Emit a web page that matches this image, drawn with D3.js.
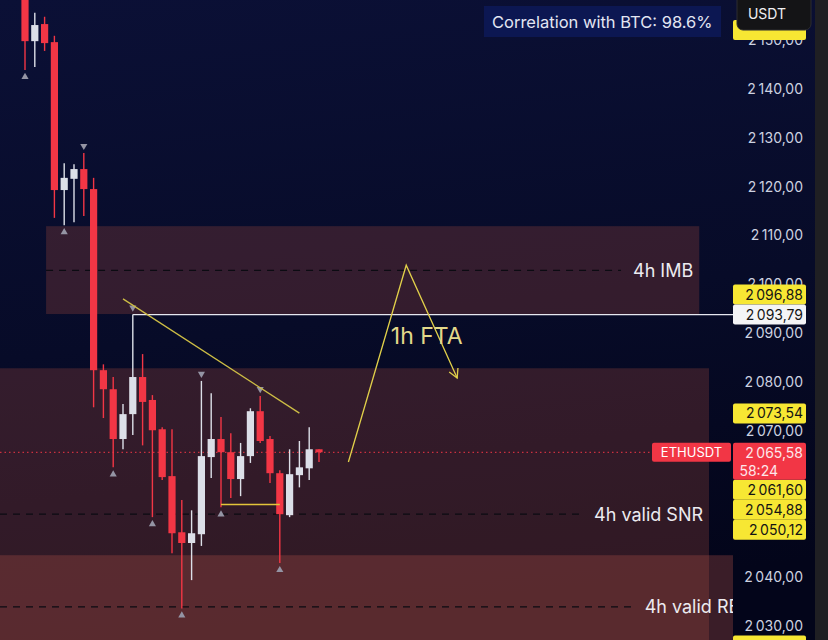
<!DOCTYPE html>
<html><head><meta charset="utf-8">
<script src="https://cdn.jsdelivr.net/npm/d3@7"></script>
<style>
html,body{margin:0;padding:0;background:#050818;}
svg{display:block;font-family:Inter,"Noto Sans",sans-serif;}
</style></head>
<body>
<svg id="c" width="828" height="640"></svg>
<script>
// ---- data ----
const opens  = [2162, 2149.8, 2153.3, 2149.6, 2119.3, 2121.6, 2123.6, 2119.5, 2082.4, 2078.5, 2068.3, 2073.4, 2081.0, 2076.3, 2070.3, 2060.7, 2049.2, 2047.0, 2048.8, 2064.6, 2068.3, 2065.6, 2060.1, 2064.8, 2074.0, 2068.3, 2061.3, 2052.7, 2060.9, 2062.3, 2066.2];
const highs  = [2166, 2155.6, 2154.8, 2150.9, 2124.8, 2124.6, 2126.9, 2121.8, 2083.6, 2081.0, 2075.5, 2093.79, 2085.7, 2077.3, 2070.7, 2070.3, 2055.8, 2053.7, 2080.2, 2077.7, 2072.8, 2069.5, 2067.5, 2074.6, 2077.1, 2068.9, 2061.9, 2066.2, 2067.9, 2070.7, 2066.2];
const lows   = [2143.9, 2144.5, 2147.8, 2113.6, 2112.1, 2112.7, 2114.0, 2074.8, 2072.6, 2062.5, 2066.2, 2069.1, 2067.0, 2052.3, 2059.9, 2044.9, 2033.6, 2039.4, 2046.4, 2060.3, 2054.3, 2056.2, 2056.6, 2063.4, 2067.5, 2059.3, 2042.9, 2052.3, 2058.4, 2059.9, 2063.6];
const closes = [2149.8, 2153.1, 2149.4, 2119.3, 2121.8, 2123.6, 2119.5, 2082.4, 2078.5, 2068.3, 2073.4, 2081.0, 2075.9, 2070.1, 2060.5, 2049.0, 2047.0, 2049.0, 2064.8, 2068.3, 2065.6, 2060.1, 2064.8, 2074.0, 2067.9, 2061.3, 2052.9, 2061.1, 2062.5, 2066.2, 2065.58];
const fractalBelow = [0, 4, 9, 13, 16, 20, 26];
const fractalAbove = [6, 11, 18, 24];
const tickValues = [2030, 2040, 2050, 2060, 2070, 2080, 2090, 2100, 2110, 2120, 2130, 2140, 2150];
const zoneNames   = ["4h IMB", "4h valid SNR", "4h valid RB"];
const zoneTops    = [2111.9, 2082.8, 2044.5];
const zoneBottoms = [2093.9, 2010, 2010];
const zoneStarts  = [2.15, -3, -3];
const zoneEnds    = [68.8, 69.8, 73.6];
const zoneMids    = [2102.85, 2052.9, 2033.9];
const trendIdx = [10, 28];
const trendPx  = [2097.0, 2073.6];
const ftaIdx = [33.0, 38.9, 44.1];
const ftaPx  = [2063.6, 2103.9, 2080.8];
const boxLineIdx = [20, 26];
const boxLinePx = 2054.88;
const highLinePx = 2093.79;
const currentPx = 2065.58;
const countdown = "58:24";
const yellowLevels = [2096.88, 2073.54, 2061.60, 2054.88, 2050.12];
const whiteLevels = [2093.79];
const offscreenMarkers = [2152.1, 2026.0];

// ---- scales ----
const W = 828, H = 640, plotRight = 733;
const y = d3.scaleLinear().domain([2030, 2140]).range([626, 89]);
const x = d3.scaleLinear().domain([0, 30]).range([25, 319]);
const loc = d3.formatLocale({decimal: ",", thousands: "\u2009", grouping: [3], currency: ["", ""]});
const fmt = loc.format(",.2f");

const svg = d3.select("#c");
const defs = svg.append("defs");
const g1 = defs.append("linearGradient").attr("id","bg").attr("x1",0).attr("y1",0).attr("x2",0.15).attr("y2",1);
g1.append("stop").attr("offset","0%").attr("stop-color","#0b1036");
g1.append("stop").attr("offset","55%").attr("stop-color","#070b28");
g1.append("stop").attr("offset","100%").attr("stop-color","#03051a");
defs.append("clipPath").attr("id","plot").append("rect").attr("x",0).attr("y",0).attr("width",plotRight).attr("height",H);

svg.append("rect").attr("width",W).attr("height",H).attr("fill","url(#bg)");
svg.append("rect").attr("x",815).attr("width",W-815).attr("height",H).attr("fill","#1f1f23");

const plot = svg.append("g").attr("clip-path","url(#plot)");

// zones
zoneNames.forEach((name, i) => {
  const x0 = x(zoneStarts[i]), x1 = x(zoneEnds[i]);
  plot.append("rect").attr("x", x0).attr("y", y(zoneTops[i]))
    .attr("width", x1 - x0).attr("height", y(zoneBottoms[i]) - y(zoneTops[i]))
    .attr("fill", i === 2 ? "rgba(175,80,70,0.32)" : "rgba(170,77,60,0.28)");
});
zoneNames.forEach((name, i) => {
  const x0 = x(zoneStarts[i]), x1 = x(zoneEnds[i]);
  const t = plot.append("text").attr("x", x1 - 6).attr("y", y(zoneMids[i]))
    .attr("dy", "0.35em").attr("text-anchor", "end").attr("font-size", 18)
    .attr("fill", "#ecebf0").text(name);
  const tw = t.node().getComputedTextLength();
  plot.insert("line", "text").attr("x1", Math.max(x0, 0)).attr("x2", x1 - 6 - tw - 12)
    .attr("y1", y(zoneMids[i])).attr("y2", y(zoneMids[i]))
    .attr("stroke", "#0b0b12").attr("stroke-width", 1.3).attr("stroke-dasharray", "7,6");
});

// current price dotted line
plot.append("line").attr("x1", 0).attr("x2", 652).attr("y1", y(currentPx)).attr("y2", y(currentPx))
  .attr("stroke", "#f23645").attr("stroke-width", 1).attr("stroke-dasharray", "1.5,3");

// high horizontal line
plot.append("line").attr("x1", x(11)).attr("x2", plotRight).attr("y1", y(highLinePx)).attr("y2", y(highLinePx))
  .attr("stroke", "#e6e8f0").attr("stroke-width", 1.2);

// candles
const idx = d3.range(opens.length);
const up = i => closes[i] >= opens[i];
const col = i => up(i) ? "#dcdfe8" : "#f23645";
plot.selectAll("line.wick").data(idx).join("line").attr("class","wick")
  .attr("x1", i => x(i)).attr("x2", i => x(i))
  .attr("y1", i => y(highs[i])).attr("y2", i => y(lows[i]))
  .attr("stroke", col).attr("stroke-width", 1.4);
plot.selectAll("rect.body").data(idx).join("rect").attr("class","body")
  .attr("x", i => x(i) - 3.6).attr("width", 7.2)
  .attr("y", i => y(Math.max(opens[i], closes[i])))
  .attr("height", i => Math.max(1.5, Math.abs(y(opens[i]) - y(closes[i]))))
  .attr("fill", col);

// fractal markers
const tri = d3.symbol().type(d3.symbolTriangle).size(22);
plot.selectAll("path.fb").data(fractalBelow).join("path").attr("class","fb")
  .attr("d", tri).attr("transform", i => `translate(${x(i)},${y(lows[i]) + 7})`).attr("fill", "#9494a4");
plot.selectAll("path.fa").data(fractalAbove).join("path").attr("class","fa")
  .attr("d", tri).attr("transform", i => `translate(${x(i)},${y(highs[i]) - 7}) rotate(180)`).attr("fill", "#9494a4");

// trendline
plot.append("line").attr("x1", x(trendIdx[0])).attr("y1", y(trendPx[0]))
  .attr("x2", x(trendIdx[1])).attr("y2", y(trendPx[1]))
  .attr("stroke", "#cdbd45").attr("stroke-width", 1.3);
// yellow box line
plot.append("line").attr("x1", x(boxLineIdx[0])).attr("x2", x(boxLineIdx[1]))
  .attr("y1", y(boxLinePx)).attr("y2", y(boxLinePx))
  .attr("stroke", "#e3c53a").attr("stroke-width", 1.6);

// FTA path
const pts = ftaIdx.map((v, i) => [x(v), y(ftaPx[i])]);
plot.append("path").attr("d", d3.line()(pts)).attr("fill","none")
  .attr("stroke", "#e1d04a").attr("stroke-width", 1.3);
{
  const [a, b] = [pts[1], pts[2]];
  const ang = Math.atan2(b[1]-a[1], b[0]-a[0]);
  const L = 10, s = 0.5;
  const p1 = [b[0] - L*Math.cos(ang - s), b[1] - L*Math.sin(ang - s)];
  const p2 = [b[0] - L*Math.cos(ang + s), b[1] - L*Math.sin(ang + s)];
  plot.append("path").attr("d", d3.line()([p1, b, p2])).attr("fill","none")
    .attr("stroke", "#e1d04a").attr("stroke-width", 1.3);
}
plot.append("text").attr("x", (pts[1][0] + pts[2][0]) / 2 - 5).attr("y", y(2089.5))
  .attr("dy","0.35em").attr("text-anchor","middle").attr("font-size", 23)
  .attr("fill", "#e3d98a").text("1h FTA");

// ETHUSDT tag
svg.append("rect").attr("x", 652).attr("y", y(currentPx) - 9.5).attr("width", 79).attr("height", 19)
  .attr("rx", 2).attr("fill", "#f23645");
svg.append("text").attr("x", 691.5).attr("y", y(currentPx)).attr("dy","0.36em")
  .attr("text-anchor","middle").attr("font-size", 13).attr("fill", "#ffffff").text("ETHUSDT");

// price labels with collision handling
const cur = {price: currentPx, kind: "red", h: 37};
const labels = yellowLevels.map(p => ({price: p, kind: "yellow", h: 20}))
  .concat(whiteLevels.map(p => ({price: p, kind: "white", h: 20})));
labels.forEach(l => { l.top = y(l.price) - 10; });
cur.top = y(currentPx) - 9.5;
const below = labels.filter(l => y(l.price) > y(currentPx)).sort((a,b) => y(a.price) - y(b.price));
let cursor = cur.top + cur.h;
below.forEach(l => { l.top = Math.max(l.top, cursor); cursor = l.top + l.h; });
const above = labels.filter(l => y(l.price) < y(currentPx)).sort((a,b) => y(b.price) - y(a.price));
cursor = cur.top;
above.forEach(l => { l.top = Math.min(l.top, cursor - l.h); cursor = l.top; });
const boxes = labels.map(l => [l.top, l.top + l.h]).concat([[cur.top, cur.top + cur.h]]);

// axis ticks (hide those whose centre is covered by a price label)
const visibleTicks = tickValues.filter(v => !boxes.some(b => y(v) > b[0] && y(v) < b[1]));
const axis = svg.append("g").attr("transform", `translate(803,0)`)
  .call(d3.axisRight(y).tickValues(visibleTicks).tickSize(0).tickFormat(fmt));
axis.select(".domain").remove();
axis.selectAll("text").attr("x", 0).attr("text-anchor","end").attr("font-size", 14)
  .attr("font-family", "Inter,'Noto Sans',sans-serif").attr("fill", "#cdd2e0");

// off-screen level markers (only their edge shows)
svg.selectAll("rect.mk").data(offscreenMarkers).join("rect").attr("class","mk")
  .attr("x", 733).attr("y", v => y(v) - 10).attr("width", 73).attr("height", 20)
  .attr("rx", 2).attr("fill", "#f7e733");

const lab = svg.append("g");
labels.forEach(l => {
  lab.append("rect").attr("x", 733).attr("y", l.top).attr("width", 73).attr("height", l.h)
    .attr("rx", 2).attr("fill", l.kind === "yellow" ? "#f7e733" : "#f4f4f6");
  lab.append("text").attr("x", 803).attr("y", l.top + l.h/2).attr("dy","0.36em")
    .attr("text-anchor","end").attr("font-size", 14).attr("fill", "#141414").text(fmt(l.price));
});
lab.append("rect").attr("x", 733).attr("y", cur.top).attr("width", 73).attr("height", cur.h)
  .attr("rx", 2).attr("fill", "#f23645");
lab.append("text").attr("x", 803).attr("y", cur.top + 10).attr("dy","0.36em")
  .attr("text-anchor","end").attr("font-size", 14).attr("fill", "#fde6ea").text(fmt(currentPx));
lab.append("text").attr("x", 778).attr("y", cur.top + 28).attr("dy","0.36em")
  .attr("text-anchor","end").attr("font-size", 14).attr("fill", "#fde6ea").text(countdown);

// USDT box
svg.append("rect").attr("x", 737).attr("y", -6).attr("width", 74).attr("height", 36)
  .attr("rx", 6).attr("fill", "#141416").attr("stroke", "#2c2c30");
svg.append("text").attr("x", 767).attr("y", 14).attr("dy","0.36em").attr("text-anchor","middle")
  .attr("font-size", 14).attr("fill", "#f0f0f2").text("USDT");

// correlation box
svg.append("rect").attr("x", 484).attr("y", 6).attr("width", 237).attr("height", 31)
  .attr("fill", "#0c1752");
svg.append("text").attr("x", 492).attr("y", 22).attr("dy","0.36em")
  .attr("font-size", 16.5).attr("fill", "#e3e6f3").text("Correlation with BTC: 98.6%");
</script>
</body></html>
